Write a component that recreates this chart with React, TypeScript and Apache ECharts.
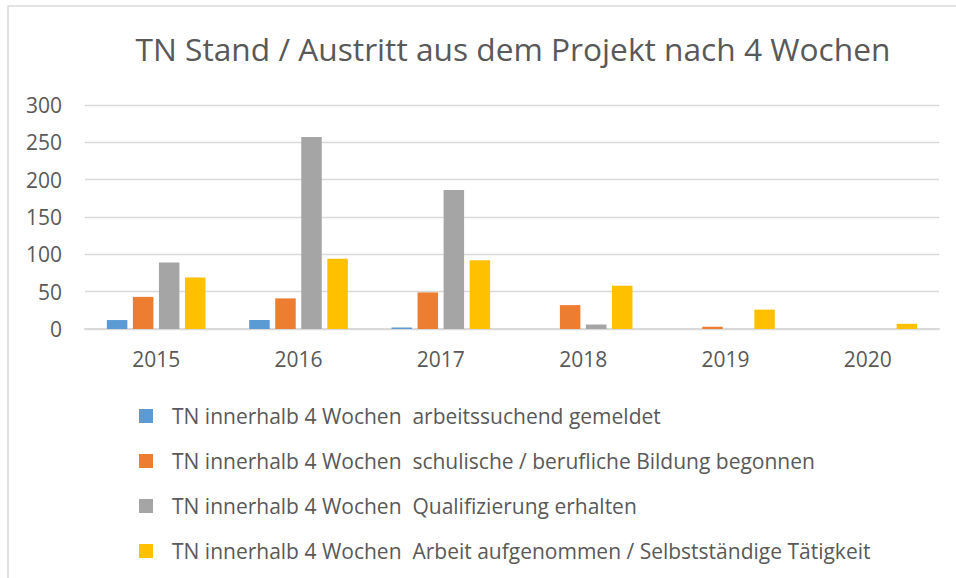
import React, { useEffect, useRef } from "react";
import * as echarts from "echarts";

const categories = ["2015", "2016", "2017", "2018", "2019", "2020"];
const seriesNames = [
  "TN innerhalb 4 Wochen  arbeitssuchend gemeldet",
  "TN innerhalb 4 Wochen  schulische / berufliche Bildung begonnen",
  "TN innerhalb 4 Wochen  Qualifizierung erhalten",
  "TN innerhalb 4 Wochen  Arbeit aufgenommen / Selbstständige Tätigkeit",
];
const arbeitssuchend = [12, 12, 2, 0, 0, 0];
const bildung = [43, 41, 49, 32, 3, 0];
const qualifizierung = [89, 257, 186, 6, 0, 0];
const arbeit = [69, 94, 92, 58, 26, 7];
const colors = ["#5b9bd5", "#ed7d31", "#a5a5a5", "#ffc000"];
const yTicks = { min: 0, max: 300, interval: 50 };

const FONT = "'Open Sans', sans-serif";

export default function App() {
  const ref = useRef<HTMLDivElement>(null);
  useEffect(() => {
    if (!ref.current) return;
    const chart = echarts.init(ref.current, undefined, { renderer: "svg" });
    const values = [arbeitssuchend, bildung, qualifizierung, arbeit];
    chart.setOption({
      animation: false,
      backgroundColor: "#ffffff",
      color: colors,
      title: {
        text: "TN Stand / Austritt aus dem Projekt nach 4 Wochen",
        left: 508,
        textAlign: "center",
        top: 27,
        textStyle: { fontFamily: FONT, fontSize: 31.7, fontWeight: "normal", color: "#595959" },
      },
      graphic: [
        {
          type: "rect",
          shape: { x: 8, y: 6, width: 1000, height: 700 },
          style: { fill: "none", stroke: "#d9d9d9", lineWidth: 1.5 },
          silent: true,
        },
      ],
      legend: {
        orient: "vertical",
        left: 139,
        top: 405,
        padding: 0,
        itemWidth: 14,
        itemHeight: 14,
        itemGap: 23,
        icon: "rect",
        data: seriesNames,
        textStyle: {
          fontFamily: FONT,
          fontSize: 21,
          lineHeight: 22,
          color: "#595959",
          padding: [0, 0, 0, 14],
        },
      },
      grid: { left: 85, right: 17, top: 105, bottom: 249, containLabel: false },
      xAxis: {
        type: "category",
        data: categories,
        axisLine: { lineStyle: { color: "#d9d9d9", width: 2 } },
        axisTick: { show: false },
        axisLabel: { fontFamily: FONT, fontSize: 21, color: "#595959", margin: 19 },
      },
      yAxis: {
        type: "value",
        min: yTicks.min,
        max: yTicks.max,
        interval: yTicks.interval,
        axisLine: { show: false },
        axisTick: { show: false },
        axisLabel: { fontFamily: FONT, fontSize: 21, color: "#595959", margin: 23 },
        splitLine: { lineStyle: { color: "#d9d9d9", width: 1.3 } },
      },
      series: seriesNames.map((name, i) => ({
        name,
        type: "bar",
        data: values[i],
        barWidth: 20.5,
        barGap: "27%",
        itemStyle: { color: colors[i] },
      })),
    });
    return () => chart.dispose();
  }, []);
  return (
    <div
      ref={ref}
      style={{ position: "fixed", left: 0, top: 0, width: 956, height: 578 }}
    />
  );
}
